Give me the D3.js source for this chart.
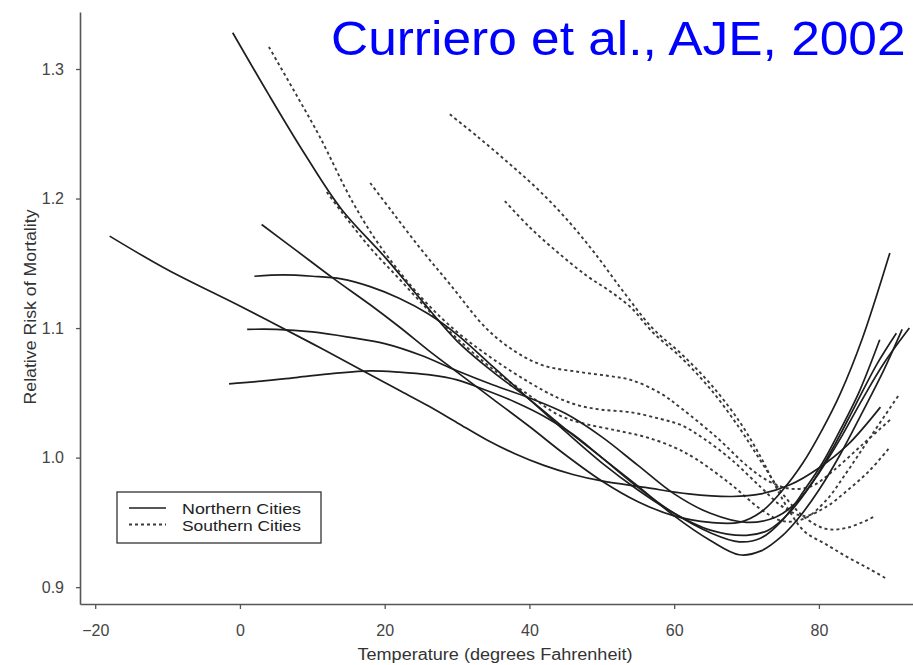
<!DOCTYPE html>
<html>
<head>
<meta charset="utf-8">
<script src="https://cdn.jsdelivr.net/npm/d3@7"></script>
<style>
html,body{margin:0;padding:0;background:#fff;overflow:hidden}
text{font-family:"Liberation Sans",Arial,Helvetica,sans-serif}
</style>
</head>
<body>
<svg id="chart" width="913" height="665"></svg>
<script>
// ---- data (temperature °F, relative risk) ----
const xTicks = [-20, 0, 20, 40, 60, 80];
const yTicks = [0.9, 1.0, 1.1, 1.2, 1.3];
const legendLabels = ["Northern Cities", "Southern Cities"];
const titleText = "Curriero et al., AJE, 2002";
const xTitle = "Temperature (degrees Fahrenheit)";
const yTitle = "Relative Risk of Mortality";

const north1 = [[-18,1.171],[-10,1.145],[0,1.117],[10,1.088],[18,1.064],[22,1.052],[26,1.040],[30,1.027],[34,1.014],[38,1.003],[42,0.994],[46,0.987],[50,0.982],[56,0.977],[62,0.972],[68,0.970],[72,0.972],[76,0.979],[80,0.992],[84,1.010],[88.5,1.039]];
const north2 = [[-1,1.328],[4,1.280],[9,1.234],[14,1.192],[20,1.155],[25,1.122],[30,1.090],[35,1.066],[40,1.045],[45,1.022],[50,1.000],[55,0.978],[60,0.955],[65,0.936],[69,0.925],[72,0.928],[75,0.940],[77,0.952],[80,0.975],[83,1.003],[86,1.035],[89,1.068],[91.5,1.099]];
const north3 = [[3,1.180],[8,1.159],[13,1.138],[18,1.118],[22,1.101],[26,1.083],[30,1.066],[35,1.045],[40,1.024],[45,1.002],[50,0.982],[55,0.966],[60,0.955],[65,0.950],[69,0.950],[72,0.958],[75,0.975],[77.8,0.996],[80.5,1.022],[83,1.050],[86,1.092],[89.8,1.158]];
const north4 = [[2,1.140],[6,1.141],[10,1.140],[14,1.138],[18,1.132],[22,1.123],[26,1.111],[30,1.095],[35,1.070],[40,1.045],[45,1.020],[50,0.996],[55,0.975],[60,0.957],[65,0.944],[70,0.940],[73,0.944],[76,0.958],[79,0.980],[82,1.008],[85,1.040],[88,1.072],[90.7,1.096]];
const north5 = [[1,1.099],[5,1.099],[10,1.097],[15,1.093],[20,1.088],[25,1.079],[30,1.067],[35,1.056],[40,1.046],[45,1.034],[50,1.016],[55,0.994],[60,0.972],[65,0.957],[70,0.950],[74,0.954],[77,0.966],[80,0.988],[83,1.015],[86,1.045],[89,1.073],[92.5,1.100]];
const north6 = [[-1.5,1.057],[3,1.059],[8,1.062],[13,1.065],[18,1.067],[22,1.066],[26,1.064],[30,1.060],[34,1.052],[38,1.043],[42,1.032],[46,1.018],[50,1.000],[55,0.977],[60,0.957],[65,0.942],[69,0.935],[72,0.938],[75,0.952],[78,0.975],[80.5,0.996],[83,1.022],[85.5,1.050],[88.4,1.091]];

const south1 = [[4,1.317],[8,1.278],[11,1.248],[15.6,1.197],[19.4,1.163],[25,1.124],[30,1.097],[35,1.076],[40,1.058],[44,1.046],[47,1.040],[50,1.037],[54,1.035],[58,1.030],[61,1.025],[64,1.015],[68,0.998],[72,0.977],[75,0.962],[78,0.955],[81,0.962],[84,0.975],[87,0.990],[89.8,1.008]];
const south2 = [[18,1.212],[21,1.190],[25,1.161],[29,1.134],[34,1.100],[38,1.082],[42,1.071],[47,1.066],[51,1.063],[54,1.060],[58,1.050],[61,1.038],[66,1.015],[70,0.994],[73,0.982],[76,0.976],[79,0.978],[82,0.990],[86,1.010],[90,1.030]];
const south3 = [[29,1.265],[33,1.247],[37,1.228],[41,1.208],[45,1.185],[49,1.158],[53,1.128],[57,1.100],[61,1.080],[65,1.057],[69,1.028],[72,1.000],[74,0.978],[76,0.958],[78,0.943],[81,0.933],[84,0.923],[87,0.914],[89.5,0.906]];
const south4 = [[36.6,1.198],[40,1.178],[44,1.158],[48,1.140],[51,1.129],[54,1.116],[57,1.097],[61,1.077],[65,1.053],[69,1.023],[72,0.997],[75,0.972],[78,0.954],[81,0.945],[84,0.946],[87.5,0.954]];
const south5 = [[12,1.205],[14,1.190],[18,1.162],[22,1.138],[26,1.114],[30,1.092],[35,1.068],[40,1.048],[44,1.033],[47,1.027],[52,1.021],[56,1.016],[60,1.008],[63,0.999],[67.7,0.980],[72,0.960],[75,0.951],[78,0.953],[81,0.967],[84,0.990],[87,1.015],[91,1.048]];

const northSeries = [north1, north2, north3, north4, north5, north6];
const southSeries = [south1, south2, south3, south4, south5];

// ---- drawing ----
const svg = d3.select("#chart");
const x = d3.scaleLinear().domain([-22.1, 93]).range([80, 913]);
const y = d3.scaleLinear().domain([0.887, 1.344]).range([604, 12]);

const axisColor = "#555";

const gy = svg.append("g").attr("transform", "translate(80,0)")
  .call(d3.axisLeft(y).tickValues(yTicks).tickFormat(d3.format(".1f")).tickSize(4).tickSizeOuter(0).tickPadding(12));
const gx = svg.append("g").attr("transform", "translate(0,604)")
  .call(d3.axisBottom(x).tickValues(xTicks).tickFormat(d3.format("d")).tickSize(5).tickSizeOuter(0).tickPadding(16));

[gx, gy].forEach(g => {
  g.select(".domain").attr("stroke", axisColor).attr("stroke-width", 1.6);
  g.selectAll(".tick line").attr("stroke", axisColor).attr("stroke-width", 1.3);
  g.selectAll(".tick text").attr("fill", "#444").style("font-size", "16px")
    .style("font-family", '"Liberation Sans", Arial, sans-serif');
});

svg.append("text").attr("x", 495).attr("y", 660).attr("text-anchor", "middle")
  .attr("fill", "#333").style("font-size", "16px")
  .attr("textLength", 275).attr("lengthAdjust", "spacingAndGlyphs").text(xTitle);
svg.append("text").attr("transform", "translate(36,307) rotate(-90)").attr("text-anchor", "middle")
  .attr("fill", "#333").style("font-size", "16px")
  .attr("textLength", 195).attr("lengthAdjust", "spacingAndGlyphs").text(yTitle);

const line = d3.line().x(d => x(d[0])).y(d => y(d[1])).curve(d3.curveCatmullRom.alpha(0.5));

svg.append("g").selectAll("path").data(southSeries).join("path")
  .attr("d", line).attr("fill", "none").attr("stroke", "#3a3a3a")
  .attr("stroke-width", 1.9).attr("stroke-dasharray", "3,3");

svg.append("g").selectAll("path").data(northSeries).join("path")
  .attr("d", line).attr("fill", "none").attr("stroke", "#1e1e1e")
  .attr("stroke-width", 1.7);

const lg = svg.append("g");
lg.append("rect").attr("x", 117).attr("y", 492).attr("width", 204).attr("height", 51)
  .attr("fill", "#fff").attr("stroke", "#333").attr("stroke-width", 1.3);
lg.selectAll("line.leg").data(legendLabels).join("line").attr("class", "leg")
  .attr("x1", 129).attr("x2", 166)
  .attr("y1", (d, i) => 508 + i * 16.5).attr("y2", (d, i) => 508 + i * 16.5)
  .attr("stroke", (d, i) => i === 0 ? "#1e1e1e" : "#3a3a3a")
  .attr("stroke-width", (d, i) => i === 0 ? 1.7 : 1.9)
  .attr("stroke-dasharray", (d, i) => i === 0 ? null : "3,3");
lg.selectAll("text").data(legendLabels).join("text")
  .attr("x", 182).attr("y", (d, i) => 514 + i * 16.5)
  .attr("fill", "#222").style("font-size", "15px")
  .attr("textLength", 119).attr("lengthAdjust", "spacingAndGlyphs")
  .text(d => d);

svg.append("text").attr("transform", "translate(331,55) scale(1.05,1)")
  .attr("fill", "#0000ff").style("font-size", "49px").text(titleText);
</script>
</body>
</html>
